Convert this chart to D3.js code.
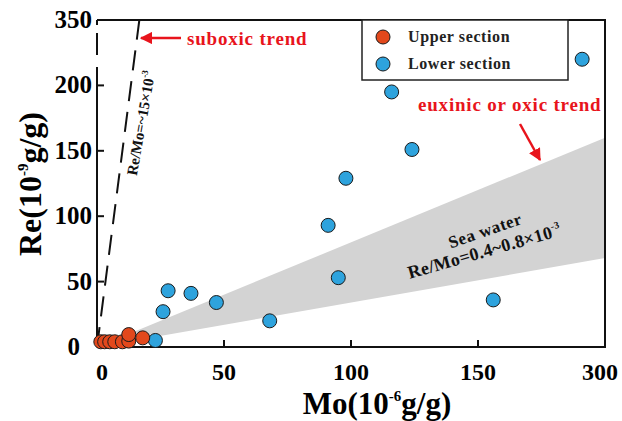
<!DOCTYPE html>
<html><head><meta charset="utf-8">
<script src="https://cdn.jsdelivr.net/npm/d3@7"></script>
<style>html,body{margin:0;padding:0;background:#fff;}svg{display:block;}</style>
</head><body><svg id="c" width="622" height="421"></svg>
<script>
// Data (Mo in 10^-6 g/g, Re in 10^-9 g/g) on the plotted (broken-axis) scale
const upperMo = [1.5, 3, 5, 7, 10, 12.5, 12.5, 18];
const upperRe = [4, 4, 4, 4, 4, 4.5, 9.5, 7];
const lowerMo = [191, 116, 124, 98, 91, 95, 156, 68, 47, 28, 37, 26, 23];
const lowerRe = [220, 195, 151, 129, 93, 53, 36, 20, 34, 43, 41, 27, 5];
const xTickValues = [0, 50, 100, 150, 200];
const xTickLabels = ["0", "50", "100", "150", "300"];
const yTickValues = [0, 50, 100, 150, 200, 250];
const yTickLabels = ["0", "50", "100", "150", "200", "350"];
const suboxicRatio = [15];          // Re/Mo ~15 x10^-3
const seawaterRatio = [0.34, 0.8];  // band edges as drawn
const legendNames = ["Upper section", "Lower section"];
const colors = ["#e2481c", "#2ea3dd"];

const svg = d3.select("#c");
const L = 97, R = 605, T = 20, B = 347;
const x = d3.scaleLinear().domain([0, 200]).range([L, R]);
const y = d3.scaleLinear().domain([0, 250]).range([B, T]);
const serif = "'Liberation Serif','Times New Roman',serif";

// seawater band
const band = [[0,0],[200, 200*seawaterRatio[1]],[200, 200*seawaterRatio[0]]];
svg.append("path").attr("d", d3.line().x(d=>x(d[0])).y(d=>y(d[1]))(band) + "Z")
  .attr("fill", "#d3d3d3");

// suboxic dashed line
const xTop = 250 / suboxicRatio[0];
svg.append("line").attr("x1", x(0)).attr("y1", y(0)).attr("x2", x(xTop)).attr("y2", y(250))
  .attr("stroke", "#111").attr("stroke-width", 2).attr("stroke-dasharray", "20,11");

// frame
const g = svg.append("g").attr("stroke", "#111").attr("stroke-width", 2).attr("fill", "none");
g.append("path").attr("d", `M${L},${T}H${R}V${B}H${L}`);
g.append("path").attr("d", `M${L},${B}V67 M${L},55V33 M${L},${T}V25`);

// ticks inward
xTickValues.slice(1, 4).forEach(v => {
  g.append("line").attr("x1", x(v)).attr("x2", x(v)).attr("y1", B).attr("y2", B - 7);
});
yTickValues.slice(1, 5).forEach(v => {
  g.append("line").attr("x1", L).attr("x2", L + 7).attr("y1", y(v)).attr("y2", y(v));
});

// tick labels
const xOff = [5, 0, 0, 0, -5];
xTickValues.forEach((v, i) => {
  svg.append("text").attr("x", x(v) + xOff[i]).attr("y", 380).attr("text-anchor", "middle")
    .attr("font-family", serif).attr("font-weight", "bold").attr("font-size", 24).text(xTickLabels[i]);
});
yTickValues.forEach((v, i) => {
  svg.append("text").attr("x", i === 0 ? 80 : 92).attr("y", y(v) + 8).attr("text-anchor", "end")
    .attr("font-family", serif).attr("font-weight", "bold").attr("font-size", 25).text(yTickLabels[i]);
});

// axis titles
const xt = svg.append("text").attr("x", 377).attr("y", 414).attr("text-anchor", "middle")
  .attr("font-family", serif).attr("font-weight", "bold").attr("font-size", 31);
xt.append("tspan").text("Mo(10");
xt.append("tspan").attr("dy", -13).attr("font-size", 15).text("-6");
xt.append("tspan").attr("dy", 13).text("g/g)");

const yt = svg.append("text").attr("transform", "translate(41,184) rotate(-90)").attr("text-anchor", "middle")
  .attr("font-family", serif).attr("font-weight", "bold").attr("font-size", 32);
yt.append("tspan").text("Re(10");
yt.append("tspan").attr("dy", -13).attr("font-size", 15).text("-9");
yt.append("tspan").attr("dy", 13).text("g/g)");

// points
function pts(mo, re, col) {
  svg.append("g").selectAll("circle").data(mo.map((m, i) => [m, re[i]])).join("circle")
    .attr("cx", d => x(d[0])).attr("cy", d => y(d[1])).attr("r", 7)
    .attr("fill", col).attr("stroke", "#1a1a1a").attr("stroke-width", 1);
}
pts(lowerMo, lowerRe, colors[1]);
pts(upperMo, upperRe, colors[0]);

// legend
svg.append("rect").attr("x", 362).attr("y", 20).attr("width", 206).attr("height", 60)
  .attr("fill", "#fff").attr("stroke", "#222").attr("stroke-width", 1.5);
legendNames.forEach((n, i) => {
  svg.append("circle").attr("cx", 383).attr("cy", 37 + i * 27).attr("r", 7)
    .attr("fill", colors[i]).attr("stroke", "#1a1a1a").attr("stroke-width", 1);
  svg.append("text").attr("x", 408).attr("y", 42 + i * 27).attr("font-family", serif)
    .attr("font-weight", "bold").attr("font-size", 16).attr("letter-spacing", 0.6)
    .attr("fill", "#222").text(n);
});

// annotations
const red = "#e8141c";
svg.append("defs").append("marker").attr("id", "ah").attr("viewBox", "0 0 10 10")
  .attr("refX", 9).attr("refY", 5).attr("markerWidth", 5).attr("markerHeight", 5)
  .attr("orient", "auto").attr("markerUnits", "strokeWidth")
  .append("path").attr("d", "M0,0L10,5L0,10Z").attr("fill", red);
svg.append("line").attr("x1", 181).attr("y1", 38).attr("x2", 141).attr("y2", 38)
  .attr("stroke", red).attr("stroke-width", 2.5).attr("marker-end", "url(#ah)");
svg.append("text").attr("x", 187).attr("y", 45).attr("font-family", serif).attr("font-weight", "bold")
  .attr("font-size", 19).attr("letter-spacing", 0.8).attr("fill", red).text("suboxic trend");

svg.append("text").attr("x", 418).attr("y", 111).attr("font-family", serif).attr("font-weight", "bold")
  .attr("font-size", 19).attr("letter-spacing", 0.8).attr("fill", red).text("euxinic or oxic trend");
svg.append("line").attr("x1", 520).attr("y1", 124).attr("x2", 540).attr("y2", 160)
  .attr("stroke", red).attr("stroke-width", 2.5).attr("marker-end", "url(#ah)");

const sw1 = svg.append("text").attr("transform", "translate(487,236) rotate(-19)").attr("text-anchor", "middle")
  .attr("font-family", serif).attr("font-weight", "bold").attr("font-size", 17).attr("letter-spacing", 0.6)
  .attr("fill", "#111");
sw1.text("Sea water");
const sw2 = svg.append("text").attr("transform", "translate(486,257) rotate(-16)").attr("text-anchor", "middle")
  .attr("font-family", serif).attr("font-weight", "bold").attr("font-size", 18).attr("letter-spacing", 0.3)
  .attr("fill", "#111");
sw2.append("tspan").text("Re/Mo=0.4~0.8×10");
sw2.append("tspan").attr("dy", -8).attr("font-size", 10).text("-3");

const sb = svg.append("text").attr("transform", "translate(146,124) rotate(-80)").attr("text-anchor", "middle")
  .attr("font-family", serif).attr("font-weight", "bold").attr("font-size", 15).attr("fill", "#111");
sb.append("tspan").text("Re/Mo=~15×10");
sb.append("tspan").attr("dy", -7).attr("font-size", 9).text("-3");
</script></body></html>
